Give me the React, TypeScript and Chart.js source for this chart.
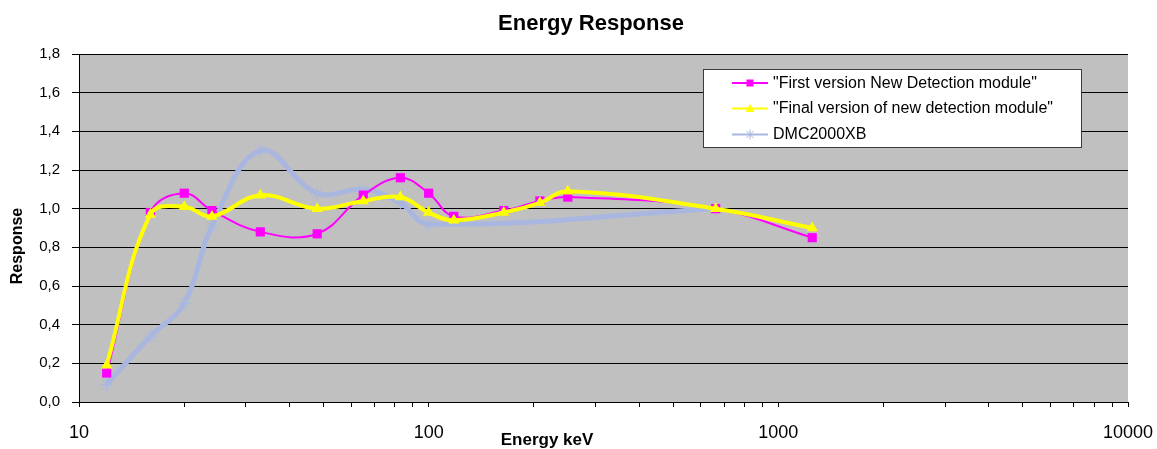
import React, { useEffect, useRef } from 'react';
import { Chart, registerables } from 'chart.js';

Chart.register(...registerables);

// Photon energies (keV) of the calibration qualities
const energies = [12, 16, 20, 24, 33, 48, 65, 83, 100, 118, 164, 208, 250, 662, 1250];
const firstVersion = [0.15, 0.98, 1.08, 0.99, 0.88, 0.87, 1.07, 1.16, 1.08, 0.96, 0.99, 1.04, 1.06, 1.0, 0.85];
const finalVersion = [0.19, 0.97, 1.01, 0.96, 1.07, 1.0, 1.04, 1.06, 0.98, 0.94, 0.98, 1.03, 1.09, 1.0, 0.9];
const dmcEnergies = [12, 16, 20, 24, 33, 48, 65, 83, 100, 662];
const dmcResponse = [0.09, 0.34, 0.51, 0.91, 1.3, 1.08, 1.1, 1.03, 0.92, 1.0];

const seriesNames = [
  '"First version New Detection module"',
  '"Final version of new detection module"',
  'DMC2000XB',
];
const xTickLabels = ['10', '100', '1000', '10000'];
const yTickLabels = ['0,0', '0,2', '0,4', '0,6', '0,8', '1,0', '1,2', '1,4', '1,6', '1,8'];

const MAGENTA = '#ff00ff';
const YELLOW = '#ffff00';
const LAVENDER = '#a9b7e0';
const FONT = '"Liberation Sans", Arial, sans-serif';

Chart.defaults.font.family = FONT;

const toPoints = (xs: number[], ys: number[]) => xs.map((x, i) => ({ x, y: ys[i] }));

// every decade gets minor marks at 2..9 times its start
const xTickValues: number[] = [];
xTickLabels.forEach((label, i) => {
  const start = Number(label);
  xTickValues.push(start);
  if (i < xTickLabels.length - 1) {
    for (let m = 2; m <= 9; m++) xTickValues.push(start * m);
  }
});

const plotBackground = {
  id: 'plotBackground',
  beforeDraw(chart: any) {
    const { ctx, chartArea: a } = chart;
    ctx.save();
    ctx.fillStyle = '#c0c0c0';
    ctx.fillRect(a.left, a.top, a.right - a.left, a.bottom - a.top);
    ctx.restore();
  },
};

function drawMarker(ctx: CanvasRenderingContext2D, kind: string, x: number, y: number, color: string) {
  ctx.save();
  ctx.fillStyle = color;
  ctx.strokeStyle = color;
  if (kind === 'rect') {
    ctx.fillRect(x - 3.5, y - 3.5, 7, 7);
  } else if (kind === 'triangle') {
    ctx.beginPath();
    ctx.moveTo(x, y - 4.5);
    ctx.lineTo(x + 4.5, y + 3.5);
    ctx.lineTo(x - 4.5, y + 3.5);
    ctx.closePath();
    ctx.fill();
  } else {
    ctx.lineWidth = 1;
    ctx.beginPath();
    const r = 5;
    for (let k = 0; k < 4; k++) {
      const ang = (k * Math.PI) / 4;
      ctx.moveTo(x - r * Math.cos(ang), y - r * Math.sin(ang));
      ctx.lineTo(x + r * Math.cos(ang), y + r * Math.sin(ang));
    }
    ctx.stroke();
  }
  ctx.restore();
}

const annotations = {
  id: 'annotations',
  afterDraw(chart: any) {
    const { ctx } = chart;
    ctx.save();
    ctx.fillStyle = '#000';

    // chart title
    ctx.font = `bold 22px ${FONT}`;
    ctx.textAlign = 'center';
    ctx.textBaseline = 'alphabetic';
    ctx.fillText('Energy Response', 591, 30);

    // axis titles
    ctx.font = `bold 17px ${FONT}`;
    ctx.fillText('Energy keV', 547, 445);

    ctx.save();
    ctx.translate(18, 246);
    ctx.rotate(-Math.PI / 2);
    ctx.font = `bold 16px ${FONT}`;
    ctx.textBaseline = 'middle';
    ctx.fillText('Response', 0, 0);
    ctx.restore();

    // legend box
    ctx.fillStyle = '#fff';
    ctx.fillRect(703.5, 69.5, 378, 78);
    ctx.strokeStyle = '#3c3c3c';
    ctx.lineWidth = 1;
    ctx.strokeRect(703.5, 69.5, 378, 78);

    const rows = [
      { color: MAGENTA, marker: 'rect', y: 83 },
      { color: YELLOW, marker: 'triangle', y: 108.5 },
      { color: LAVENDER, marker: 'star', y: 134.5 },
    ];
    rows.forEach((row, i) => {
      ctx.strokeStyle = row.color;
      ctx.lineWidth = 2;
      ctx.beginPath();
      ctx.moveTo(732, row.y);
      ctx.lineTo(768, row.y);
      ctx.stroke();
      drawMarker(ctx, row.marker, 750, row.y, row.color);
      ctx.fillStyle = '#000';
      ctx.font = `16px ${FONT}`;
      ctx.textAlign = 'left';
      ctx.textBaseline = 'middle';
      ctx.fillText(seriesNames[i], 773, row.y + 0.5);
    });
    ctx.restore();
  },
};

export default function App() {
  const canvasRef = useRef<HTMLCanvasElement>(null);

  useEffect(() => {
    const canvas = canvasRef.current;
    if (!canvas) return;
    const chart = new Chart(canvas, {
      type: 'line',
      data: {
        datasets: [
          {
            label: seriesNames[0],
            data: toPoints(energies, firstVersion),
            borderColor: MAGENTA,
            backgroundColor: MAGENTA,
            borderWidth: 2,
            pointStyle: 'rect',
            pointRadius: 6.5,
            pointBorderWidth: 0,
            pointBackgroundColor: MAGENTA,
            tension: 0.4,
            order: 1,
          },
          {
            label: seriesNames[1],
            data: toPoints(energies, finalVersion),
            borderColor: YELLOW,
            backgroundColor: YELLOW,
            borderWidth: 4,
            pointStyle: 'triangle',
            pointRadius: 6.5,
            pointBorderWidth: 0,
            pointBackgroundColor: YELLOW,
            tension: 0.4,
            order: 0,
          },
          {
            label: seriesNames[2],
            data: toPoints(dmcEnergies, dmcResponse),
            borderColor: LAVENDER,
            backgroundColor: LAVENDER,
            borderWidth: 5,
            pointStyle: 'star',
            pointRadius: 7,
            pointBorderWidth: 1,
            pointBorderColor: LAVENDER,
            tension: 0.4,
            order: 2,
          },
        ],
      },
      options: {
        animation: false,
        responsive: false,
        devicePixelRatio: 1,
        layout: { padding: { left: 0, right: 29, top: 54, bottom: 0 } },
        plugins: {
          legend: { display: false },
          title: { display: false },
          tooltip: { enabled: false },
        },
        scales: {
          x: {
            type: 'logarithmic',
            min: 10,
            max: 10000,
            afterBuildTicks: (scale: any) => {
              scale.ticks = xTickValues.map((value) => ({ value }));
            },
            afterFit: (scale: any) => {
              scale.height = 47;
              scale.paddingLeft = 0;
              scale.paddingRight = 0;
            },
            ticks: {
              autoSkip: false,
              maxRotation: 0,
              minRotation: 0,
              color: '#000',
              padding: 15,
              font: { size: 18 },
              callback: (value: any) => {
                const label = xTickLabels.find((l) => Number(l) === Number(value));
                return label ?? '';
              },
            },
            grid: {
              drawOnChartArea: false,
              drawTicks: true,
              tickLength: 5,
              color: '#000',
            },
            border: { color: '#000', width: 1 },
          },
          y: {
            type: 'linear',
            min: 0,
            max: 1.8,
            afterBuildTicks: (scale: any) => {
              scale.ticks = yTickLabels.map((l) => ({ value: parseFloat(l.replace(',', '.')) }));
            },
            afterFit: (scale: any) => {
              scale.width = 79;
              scale.paddingTop = 0;
              scale.paddingBottom = 0;
            },
            ticks: {
              color: '#000',
              padding: 12,
              font: { size: 15 },
              callback: (_v: any, index: number) => yTickLabels[index],
            },
            grid: {
              color: '#000',
              lineWidth: 1,
              tickLength: 7,
            },
            border: { color: '#000', width: 1 },
          },
        },
      },
      plugins: [plotBackground, annotations],
    } as any);
    return () => chart.destroy();
  }, []);

  return (
    <div style={{ position: 'absolute', left: 0, top: 0, width: 1157, height: 449, background: '#fff' }}>
      <canvas ref={canvasRef} width={1157} height={449} style={{ display: 'block' }} />
    </div>
  );
}
